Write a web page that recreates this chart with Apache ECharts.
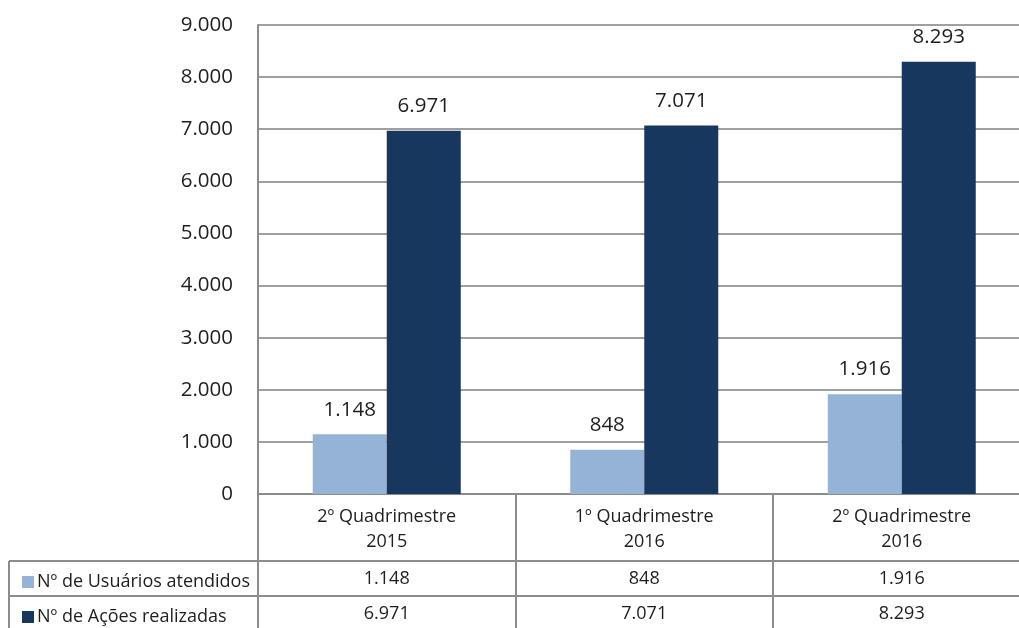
<!DOCTYPE html>
<html>
<head>
<meta charset="utf-8">
<script src="https://cdn.jsdelivr.net/npm/echarts@6/dist/echarts.min.js"></script>
<style>
  html, body { margin: 0; padding: 0; background: #fff; }
  #chart { width: 1019px; height: 628px; }
</style>
</head>
<body>
<div id="chart"></div>
<script>
// Quadrimester labels (header row of the data table)
const categories = ['2º Quadrimestre\n2015', '1º Quadrimestre\n2016', '2º Quadrimestre\n2016'];
const seriesNames = ['Nº de Usuários atendidos', 'Nº de Ações realizadas'];
const usuarios = [1148, 848, 1916];
const acoes = [6971, 7071, 8293];
const yTicks = [0, 1000, 2000, 3000, 4000, 5000, 6000, 7000, 8000, 9000];

const FONT = '"Open Sans", "Noto Sans", sans-serif';
const TEXT = '#1e1e1e';
const GRIDLINE = '#a0a0a0';
const TABLE = '#8c8c8c';

// Layout of the plot area and the table rows under it
const GRID_LEFT = 258, GRID_TOP = 25, GRID_BOTTOM_Y = 494;
const HEADER_H = 67, ROW_H = 35, TABLE_LEFT = 9;

const fmt = v => v.toLocaleString('pt-BR');

const chart = echarts.init(document.getElementById('chart'));

function rowAxis(values, offset) {
  return {
    type: 'category', data: categories, position: 'bottom', offset: offset,
    axisLine: { show: true, lineStyle: { color: TABLE, width: 2 } },
    axisTick: { show: true, length: ROW_H + 2, interval: 0, lineStyle: { color: TABLE, width: 2 } },
    axisLabel: {
      interval: 0, margin: ROW_H / 2, verticalAlign: 'middle',
      fontFamily: FONT, fontSize: 18, color: TEXT,
      formatter: (val, idx) => fmt(values[idx])
    },
    splitLine: { show: false }
  };
}

function legendRow(name, top) {
  return {
    orient: 'vertical', left: 17, top: top,
    itemWidth: 12, itemHeight: 12,
    icon: 'rect', selectedMode: false,
    textStyle: { fontFamily: FONT, fontSize: 18, color: TEXT, padding: [0, 0, 0, -2] },
    data: [name]
  };
}

const option = {
  backgroundColor: '#fff',
  animation: false,
  textStyle: { fontFamily: FONT },
  grid: {
    left: GRID_LEFT, top: GRID_TOP, right: -11.5, bottom: 628 - GRID_BOTTOM_Y,
    containLabel: false, outerBoundsMode: 'none'
  },
  legend: [
    legendRow(seriesNames[0], GRID_BOTTOM_Y + HEADER_H + 7),
    legendRow(seriesNames[1], GRID_BOTTOM_Y + HEADER_H + ROW_H + 7)
  ],
  xAxis: [
    {
      type: 'category', data: categories, position: 'bottom',
      axisLine: { show: true, lineStyle: { color: TABLE, width: 2 } },
      axisTick: { show: true, length: HEADER_H, interval: 0, lineStyle: { color: TABLE, width: 2 } },
      axisLabel: {
        interval: 0, margin: HEADER_H / 2 + 2, verticalAlign: 'middle', lineHeight: 25,
        fontFamily: FONT, fontSize: 18, color: TEXT
      },
      splitLine: { show: false }
    },
    rowAxis(usuarios, HEADER_H),
    rowAxis(acoes, HEADER_H + ROW_H)
  ],
  yAxis: {
    type: 'value', min: 0, max: 9000, interval: 1000,
    axisLine: { show: true, lineStyle: { color: TABLE, width: 2 } },
    axisTick: { show: false },
    axisLabel: {
      margin: 25, fontFamily: FONT, fontSize: 20.5, color: TEXT,
      formatter: v => yTicks.includes(v) ? fmt(v) : ''
    },
    splitLine: { show: true, lineStyle: { color: GRIDLINE, width: 2 } }
  },
  series: [
    {
      name: seriesNames[0], type: 'bar', data: usuarios, barWidth: 74, barGap: '0%',
      itemStyle: { color: '#95b3d7' },
      label: { show: true, position: 'top', distance: 14, fontFamily: FONT, fontSize: 20.5, color: TEXT, formatter: p => fmt(p.value) }
    },
    {
      name: seriesNames[1], type: 'bar', data: acoes, barWidth: 74, barGap: '0%',
      itemStyle: { color: '#17375e' },
      label: { show: true, position: 'top', distance: 14, fontFamily: FONT, fontSize: 20.5, color: TEXT, formatter: p => fmt(p.value) }
    }
  ]
};
chart.setOption(option);

// Left column of the data table (series names), ruled to meet the axis rows
const r1 = GRID_BOTTOM_Y + HEADER_H, r2 = r1 + ROW_H;
const ls = { stroke: TABLE, lineWidth: 2 };
chart.setOption({
  graphic: [
    { type: 'line', shape: { x1: TABLE_LEFT, y1: r1, x2: GRID_LEFT, y2: r1 }, style: ls, z: 5 },
    { type: 'line', shape: { x1: TABLE_LEFT, y1: r2, x2: GRID_LEFT, y2: r2 }, style: ls, z: 5 },
    { type: 'line', shape: { x1: TABLE_LEFT, y1: r1, x2: TABLE_LEFT, y2: 640 }, style: ls, z: 5 },
    { type: 'line', shape: { x1: GRID_LEFT, y1: GRID_BOTTOM_Y, x2: GRID_LEFT, y2: 640 }, style: ls, z: 5 }
  ]
});
</script>
</body>
</html>
